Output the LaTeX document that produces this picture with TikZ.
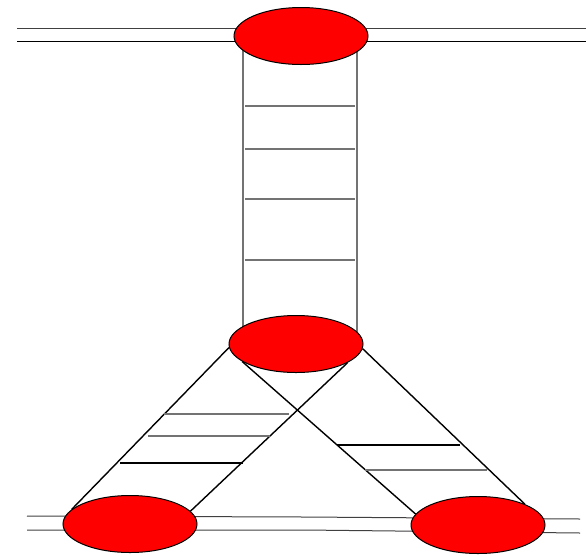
\documentclass[tikz,border=0pt]{standalone}
\usepackage{tikz}
\usetikzlibrary{shapes.geometric}
\usetikzlibrary{backgrounds}

\begin{document}
\begin{tikzpicture}[
    x=1pt, y=-1pt,
    vertex/.style={ellipse, draw, fill=red, line width=1pt, inner sep=0pt, minimum width=134pt, minimum height=57pt},
    rail/.style={draw=black!75, line width=1pt},
    leg/.style={draw=black, line width=1.4pt},
    rung/.style={draw=black!55, line width=1.1pt}
]
\useasboundingbox (0,0) rectangle (586,555);

% Vertices
\node[vertex] (top) at (301,36) {};
\node[vertex] (mid) at (296,344) {};
\node[vertex] (left) at (130,524) {};
\node[vertex] (right) at (478,525) {};

% Free ends
\coordinate (tw) at (17,28);
\coordinate (te) at (586,28);
\coordinate (tw2) at (17,41);
\coordinate (te2) at (586,41);
\coordinate (bw) at (27,516);
\coordinate (bm) at (304,517);
\coordinate (be) at (580,519);
\coordinate (bw2) at (27,530);
\coordinate (bm2) at (304,530);
\coordinate (be2) at (580,533);
\coordinate (vl) at (243,0);
\coordinate (vr) at (357,0);

\begin{scope}[on background layer]
% Rails
\draw[rail] (tw) -- (te);
\draw[rail, draw=black] (tw2) -- (te2);
\draw[rail] (bw) -- (bm) -- (be);
\draw[rail] (bw2) -- (bm2) -- (be2);

% Ladder
\draw[rung] (top.center -| vl) -- (mid.center -| vl);
\draw[rung] (top.center -| vr) -- (mid.center -| vr);
\foreach \y in {106,149,199,260}
    \draw[rung] (245,\y) -- (355,\y);

% Legs
\draw[leg] (mid.183) -- (left.166);
\draw[leg] (mid.340) -- (left.12);
\draw[leg] (mid.356) -- (right.24);
\draw[leg] (mid.198) -- (right.170);
\draw[rung] (164,414) -- (289,414);
\draw[rung] (148,436) -- (270,436);
\draw[rung, draw=black] (120,463) -- (243,463);
\draw[rung, draw=black] (337,445) -- (460,445);
\draw[rung] (365,470) -- (487,470);
\end{scope}

\end{tikzpicture}
\end{document}
